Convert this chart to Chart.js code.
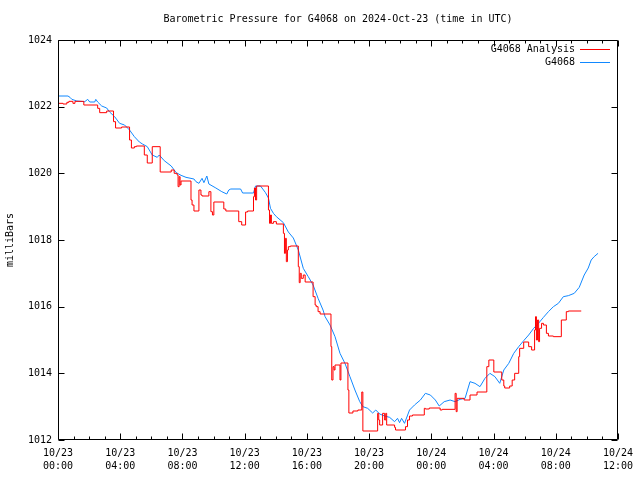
<!DOCTYPE html>
<html>
<head>
<meta charset="utf-8">
<script src="https://cdn.jsdelivr.net/npm/chart.js@4.4.1/dist/chart.umd.min.js"></script>
<style>
  html, body { margin: 0; padding: 0; background: #fff; }
  #wrap { width: 640px; height: 480px; }
</style>
</head>
<body>
<div id="wrap"><canvas id="pressureChart" width="640" height="480"></canvas></div>
<script>
// ---------- DATA ----------
const chartTitle = "Barometric Pressure for G4068 on 2024-Oct-23 (time in UTC)";
const seriesNames = ["G4068 Analysis", "G4068"];
const seriesColors = ["#ff0000", "#1188ff"];
const yAxisLabel = "milliBars";

// hours since 10/23 00:00, one label every 4 hours
const xTickLabels = [
  ["10/23", "00:00"], ["10/23", "04:00"], ["10/23", "08:00"], ["10/23", "12:00"],
  ["10/23", "16:00"], ["10/23", "20:00"], ["10/24", "00:00"], ["10/24", "04:00"],
  ["10/24", "08:00"], ["10/24", "12:00"]
];
const yTicks = [1012, 1014, 1016, 1018, 1020, 1022, 1024];

// analysis (stepped)
const analysisHours = [
  0, 0.32, 0.57, 0.70, 0.96, 1.09, 1.66, 2.55, 2.68, 3.13, 3.57, 3.70, 4.09, 4.60, 4.72, 4.91,
  5.04, 5.55, 5.74, 6.06, 6.57, 7.28, 7.47, 7.66, 7.72, 7.79, 7.85, 7.91, 8.55, 8.62, 8.74,
  9.06, 9.19, 9.26, 9.70, 9.83, 9.93, 10.02, 10.66, 10.79, 11.62, 11.81, 12.06, 12.19, 12.57,
  12.63, 12.70, 12.77, 13.53, 13.60, 13.66, 13.72, 13.85, 14.04, 14.49, 14.56, 14.62, 14.68,
  14.75, 14.81, 14.94, 15.45, 15.51, 15.57, 15.64, 15.77, 15.89, 16.40, 16.53, 16.60, 16.72,
  16.85, 17.55, 17.60, 17.68, 17.75, 17.81, 18.13, 18.19, 18.64, 18.70, 18.96, 19.28, 19.53,
  19.60, 20.55, 20.62, 20.68, 20.87, 21.00, 21.07, 21.13, 21.64, 21.70, 22.34, 22.47, 22.60,
  22.79, 23.55, 23.62, 23.87, 24.57, 24.70, 25.53, 25.60, 25.66, 26.11, 26.49, 26.94, 27.57,
  27.70, 28.02, 28.53, 28.66, 28.72, 29.04, 29.20, 29.36, 29.62, 29.68, 29.94, 30.26, 30.45,
  30.64, 30.70, 30.76, 30.83, 30.90, 30.96, 31.09, 31.21, 31.40, 31.53, 31.85, 32.36, 32.68,
  32.81, 33.64
];
const analysisValues = [
  1022.10, 1022.08, 1022.13, 1022.16, 1022.10, 1022.16, 1022.05, 1021.95, 1021.82, 1021.87,
  1021.55, 1021.36, 1021.39, 1021.00, 1020.76, 1020.80, 1020.82, 1020.55, 1020.31, 1020.80,
  1020.04, 1020.10, 1020.00, 1019.95, 1019.60, 1019.90, 1019.65, 1019.77, 1019.20, 1019.05,
  1018.87, 1019.50, 1019.35, 1019.32, 1019.45, 1018.85, 1018.75, 1019.14, 1018.93, 1018.87,
  1018.55, 1018.45, 1018.84, 1018.87, 1019.30, 1019.56, 1019.20, 1019.62, 1018.90, 1018.50,
  1018.75, 1018.50, 1018.55, 1018.48, 1018.20, 1017.60, 1018.05, 1017.35, 1017.70, 1017.80,
  1017.82, 1017.20, 1016.72, 1017.00, 1016.85, 1016.95, 1016.74, 1016.30, 1016.05, 1016.00,
  1015.85, 1015.78, 1014.80, 1013.80, 1014.20, 1014.10, 1014.25, 1013.80, 1014.31, 1013.50,
  1012.81, 1012.87, 1012.90, 1013.44, 1012.27, 1012.80, 1012.60, 1012.45, 1012.80, 1012.60,
  1012.80, 1012.45, 1012.38, 1012.30, 1012.40, 1012.60, 1012.72, 1012.75, 1012.95, 1012.93,
  1012.96, 1012.90, 1012.92, 1013.40, 1012.85, 1013.25, 1013.20, 1013.35, 1013.44, 1014.20,
  1014.40, 1014.04, 1013.80, 1013.62, 1013.56, 1013.62, 1013.80, 1014.00, 1014.50, 1014.75,
  1014.94, 1014.80, 1014.70, 1015.30, 1015.70, 1015.00, 1015.60, 1014.95, 1015.35, 1015.50,
  1015.45, 1015.20, 1015.12, 1015.10, 1015.60, 1015.85, 1015.87, 1015.87
];

// station observations
const obsHours = [
  0, 0.64, 0.77, 0.89, 1.21, 1.72, 1.91, 2.04, 2.36, 2.43, 2.55, 2.81, 3.13, 3.32, 3.64, 3.96,
  4.28, 4.60, 4.91, 5.23, 5.43, 5.74, 6.06, 6.38, 6.51, 6.83, 7.28, 7.60, 7.91, 8.23, 8.74,
  8.87, 9.06, 9.26, 9.38, 9.57, 9.70, 10.15, 10.53, 10.85, 10.98, 11.11, 11.74, 11.87, 12.57,
  12.70, 13.02, 13.34, 13.53, 13.66, 13.85, 14.04, 14.49, 14.81, 15.13, 15.45, 15.77, 16.09,
  16.40, 16.72, 17.04, 17.17, 17.49, 17.81, 18.13, 18.45, 18.77, 19.09, 19.40, 19.60, 19.91,
  20.23, 20.43, 20.68, 21.00, 21.32, 21.64, 21.83, 21.96, 22.09, 22.28, 22.60, 22.92, 23.30,
  23.62, 23.94, 24.26, 24.51, 24.83, 25.21, 25.53, 25.85, 26.17, 26.49, 26.81, 27.13, 27.45,
  27.77, 28.09, 28.40, 28.66, 28.98, 29.30, 29.62, 29.94, 30.26, 30.58, 30.89, 31.21, 31.53,
  31.85, 32.17, 32.49, 32.81, 33.19, 33.51, 33.83, 34.09, 34.28, 34.47, 34.72
];
const obsValues = [
  1022.32, 1022.32, 1022.28, 1022.22, 1022.17, 1022.15, 1022.22, 1022.14, 1022.14, 1022.22,
  1022.14, 1022.02, 1021.96, 1021.84, 1021.70, 1021.50, 1021.45, 1021.30, 1021.10, 1020.94,
  1020.88, 1020.80, 1020.55, 1020.48, 1020.55, 1020.38, 1020.22, 1020.02, 1019.94, 1019.88,
  1019.83, 1019.75, 1019.70, 1019.85, 1019.72, 1019.92, 1019.68, 1019.56, 1019.45, 1019.38,
  1019.50, 1019.53, 1019.53, 1019.41, 1019.41, 1019.62, 1019.62, 1019.42, 1019.26, 1018.95,
  1018.80, 1018.70, 1018.52, 1018.24, 1018.06, 1017.70, 1017.15, 1016.90, 1016.65, 1016.25,
  1015.90, 1015.70, 1015.45, 1015.10, 1014.60, 1014.30, 1013.90, 1013.50, 1013.15, 1013.00,
  1012.95, 1012.81, 1012.90, 1012.78, 1012.72, 1012.68, 1012.55, 1012.65, 1012.52, 1012.65,
  1012.50, 1012.90, 1013.05, 1013.20, 1013.40, 1013.35, 1013.20, 1013.02, 1013.15, 1013.20,
  1013.15, 1013.22, 1013.25, 1013.75, 1013.70, 1013.60, 1013.85, 1014.00, 1013.90, 1013.70,
  1014.10, 1014.30, 1014.60, 1014.80, 1014.98, 1015.15, 1015.35, 1015.50, 1015.68, 1015.85,
  1016.00, 1016.10, 1016.30, 1016.33, 1016.40, 1016.58, 1016.95, 1017.16, 1017.40, 1017.50,
  1017.60
];

// ---------- HELPERS ----------
const FONT = "'DejaVu Sans Mono', 'Liberation Mono', monospace";

function toPoints(hours, values) {
  return hours.map((h, i) => ({ x: h, y: values[i] }));
}

// gnuplot style frame, inward ticks, title and key
const gnuplotFrame = {
  id: "gnuplotFrame",
  afterDraw(chart) {
    const { ctx, chartArea: a, scales } = chart;
    const xs = scales.x, ys = scales.y;
    const L = Math.round(a.left) + 0.5, R = Math.round(a.right) - 0.5;
    const T = Math.round(a.top) + 0.5, B = Math.round(a.bottom) - 0.5;
    ctx.save();
    ctx.strokeStyle = "#000";
    ctx.lineWidth = 1;
    ctx.beginPath();
    ctx.rect(L, T, R - L, B - T);

    // y ticks, left and right
    yTicks.forEach(v => {
      const py = Math.round(ys.getPixelForValue(v)) + 0.5;
      ctx.moveTo(L, py); ctx.lineTo(L + 6, py);
      ctx.moveTo(R, py); ctx.lineTo(R - 6, py);
    });
    // x ticks: major every 4h, minor every hour
    for (let h = 0; h <= 36; h++) {
      const px = Math.round(xs.getPixelForValue(h)) + 0.5;
      const len = h % 4 === 0 ? 6 : 3;
      ctx.moveTo(px, B); ctx.lineTo(px, B - len);
      ctx.moveTo(px, T); ctx.lineTo(px, T + len);
    }
    ctx.stroke();

    // title
    ctx.fillStyle = "#000";
    ctx.font = "10px " + FONT;
    ctx.textAlign = "center";
    ctx.textBaseline = "middle";
    ctx.fillText(chartTitle, (a.left + a.right) / 2, 19);

    // key
    ctx.textAlign = "right";
    seriesNames.forEach((name, i) => {
      const ky = 49 + i * 13;
      ctx.fillStyle = "#000";
      ctx.fillText(name, 575, ky);
      ctx.strokeStyle = seriesColors[i];
      ctx.beginPath();
      ctx.moveTo(580, Math.round(ky) + 0.5);
      ctx.lineTo(610, Math.round(ky) + 0.5);
      ctx.stroke();
    });
    ctx.restore();
  }
};

// ---------- CHART ----------
const ctx = document.getElementById("pressureChart").getContext("2d");

new Chart(ctx, {
  type: "line",
  data: {
    datasets: [
      {
        label: seriesNames[0],
        data: toPoints(analysisHours, analysisValues),
        borderColor: seriesColors[0],
        borderWidth: 1,
        pointRadius: 0,
        stepped: true,
        fill: false,
      },
      {
        label: seriesNames[1],
        data: toPoints(obsHours, obsValues),
        borderColor: seriesColors[1],
        borderWidth: 1,
        pointRadius: 0,
        tension: 0,
        fill: false,
      },
    ],
  },
  options: {
    responsive: false,
    animation: false,
    parsing: false,
    layout: { padding: { left: 0, right: 18, top: 40, bottom: 0 } },
    plugins: {
      legend: { display: false },
      title: { display: false },
      tooltip: { enabled: false },
    },
    scales: {
      x: {
        type: "linear",
        min: 0,
        max: 36,
        afterFit: s => { s.height = 40; },
        grid: { display: false, drawTicks: false, tickLength: 0 },
        border: { display: false },
        ticks: {
          stepSize: 4,
          autoSkip: false,
          maxRotation: 0,
          padding: 7,
          color: "#000",
          font: { family: FONT, size: 10, lineHeight: 1.3 },
          callback: v => xTickLabels[v / 4],
        },
      },
      y: {
        min: 1012,
        max: 1024,
        afterFit: s => { s.width = 58; },
        grid: { display: false, drawTicks: false, tickLength: 0 },
        border: { display: false },
        title: {
          display: true,
          text: yAxisLabel,
          color: "#000",
          font: { family: FONT, size: 10 },
          padding: { top: 4, bottom: 0 },
        },
        ticks: {
          stepSize: 2,
          padding: 6,
          color: "#000",
          font: { family: FONT, size: 10 },
          callback: v => String(v),
        },
      },
    },
  },
  plugins: [gnuplotFrame],
});
</script>
</body>
</html>
